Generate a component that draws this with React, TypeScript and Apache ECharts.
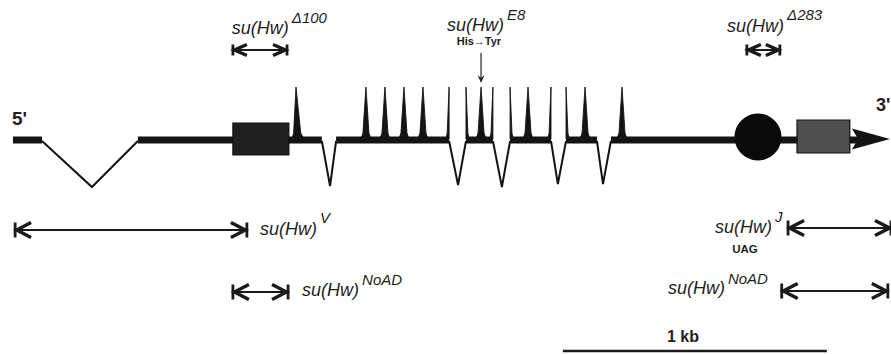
import React, { useEffect, useRef } from "react";
import * as echarts from "echarts";

// ---------------- data: positions in bp from the 5' end (1 kb = scale bar) ----------------
const axisMaxBp = 3326;
const geneStartBp = 0;
const arrowBaseBp = 3178;
const arrowNotchBp = 3201;
const arrowTipBp = 3322;

const intronStart = [110, 1170, 1652, 1818, 2038, 2212];
const intronApex = [299, 1201, 1686, 1852, 2064, 2235];
const intronEnd = [473, 1224, 1716, 1883, 2095, 2265];

// zinc fingers (left base, tip, right base); split fingers sit on intron borders
const fingerLeft = [1057, 1318, 1390, 1462, 1534, 1640, 1716, 1754, 1806, 1883, 1932, 2026, 2095, 2148, 2288];
const fingerTip = [1072, 1337, 1409, 1481, 1553, 1652, 1716, 1773, 1818, 1883, 1951, 2038, 2095, 2167, 2307];
const fingerRight = [1102, 1356, 1428, 1500, 1572, 1652, 1728, 1792, 1818, 1895, 1970, 2038, 2107, 2186, 2326];

const boxStart = [833, 2970];
const boxEnd = [1045, 3170];
const circleCenterBp = [2822];

const alleleNames = ["Δ100", "Δ283", "V", "NoAD", "J", "NoAD"];
const alleleStart = [833, 2780, 8, 833, 2936, 2912];
const alleleEnd = [1038, 2905, 886, 1042, 3326, 3314];

const pointAllele = ["E8"];
const pointPos = [1773];
const pointChange = ["His→Tyr"];
const jNote = "UAG";

const scaleBarStart = 2083;
const scaleBarLength = 1000;
const scaleBarLabel = "1 kb";

// ---------------- layout (pixels) ----------------
const TRACK_Y = 140;
const LINE_H = 7;
const FINGER_TIP_Y = 87;
const FINGER_BASE_Y = 138;
const intronApexY = [187, 186, 185, 187, 184, 184];
const boxTop = [123, 120];
const boxBottom = [155, 153];
const boxFill = ["#202020", "#4f4f4f"];
const CIRCLE_Y = 137;
const CIRCLE_R = 23.5;
const ARROW_HALF = 10.5;
const alleleRowY = [50, 50, 230, 292, 228, 291];
const alleleHead = [
  [14, 5.5],
  [14, 5.5],
  [16, 7.5],
  [16, 7.5],
  [16, 7.5],
  [16, 7.5],
];
const alleleLabelX = [829, 2705, 936, 1095, 2659, 2481];
const alleleLabelY = [28, 26, 229, 290, 227, 288];
const alleleSupY = [17, 14, 217, 279, 216, 278];
const pointLabelX = [1644];
const pointLabelY = [25];
const pointSupY = [14];

const INK = "#141414";
const TEXT = "#1e1e1e";
const FONT = '"Liberation Sans", Arial, Helvetica, sans-serif';

function measure(text: string, font: string): number {
  const c = document.createElement("canvas");
  const ctx = c.getContext("2d");
  if (!ctx) return text.length * 9;
  ctx.font = font;
  return ctx.measureText(text).width;
}

// baseline segments between introns
const segments: number[][] = [];
{
  let cur = geneStartBp;
  for (let i = 0; i < intronStart.length; i++) {
    segments.push([cur, intronStart[i]]);
    cur = intronEnd[i];
  }
  segments.push([cur, arrowNotchBp]);
}

type Lab = {
  x: number;
  y: number;
  text: string;
  size: number;
  italic?: boolean;
  bold?: boolean;
  align?: string;
  sup?: string;
  supY?: number;
};
const labels: Lab[] = [];
alleleNames.forEach((n, i) =>
  labels.push({ x: alleleLabelX[i], y: alleleLabelY[i], text: "su(Hw)", size: 18, italic: true, sup: n, supY: alleleSupY[i] })
);
pointAllele.forEach((n, i) => {
  labels.push({ x: pointLabelX[i], y: pointLabelY[i], text: "su(Hw)", size: 18, italic: true, sup: n, supY: pointSupY[i] });
  labels.push({ x: pointPos[i] - 8, y: 41, text: pointChange[i], size: 11, bold: true, align: "center" });
});
labels.push({ x: 2773, y: 249, text: jNote, size: 11.5, bold: true, align: "center" });
labels.push({ x: -4, y: 118, text: "5'", size: 19, bold: true });
labels.push({ x: 3269, y: 105, text: "3'", size: 18, bold: true });
labels.push({ x: scaleBarStart + scaleBarLength / 2 - 45, y: 336, text: scaleBarLabel, size: 16, bold: true, align: "center" });

const series: any[] = [
  {
    type: "custom",
    name: "line",
    clip: false,
    silent: true,
    data: segments,
    renderItem: (_p: any, api: any) => {
      const a = api.coord([api.value(0), TRACK_Y]);
      const b = api.coord([api.value(1), TRACK_Y]);
      return { type: "rect", shape: { x: a[0], y: a[1] - LINE_H / 2, width: b[0] - a[0], height: LINE_H }, style: { fill: INK } };
    },
  },
  {
    type: "custom",
    name: "introns",
    clip: false,
    silent: true,
    data: intronStart.map((s, i) => [s, intronApex[i], intronEnd[i]]),
    renderItem: (p: any, api: any) => {
      const i = p.dataIndex;
      const a = api.coord([api.value(0), TRACK_Y + 1]);
      const m = api.coord([api.value(1), intronApexY[i]]);
      const b = api.coord([api.value(2), TRACK_Y + 1]);
      return { type: "polyline", shape: { points: [a, m, b] }, style: { stroke: INK, lineWidth: 2, fill: "none" } };
    },
  },
  {
    type: "custom",
    name: "fingers",
    clip: false,
    silent: true,
    data: fingerLeft.map((l, i) => [l, fingerTip[i], fingerRight[i]]),
    renderItem: (_p: any, api: any) => {
      const L = api.coord([api.value(0), FINGER_BASE_Y])[0];
      const T = api.coord([api.value(1), FINGER_BASE_Y])[0];
      const R = api.coord([api.value(2), FINGER_BASE_Y])[0];
      const B = api.coord([0, FINGER_BASE_Y])[1];
      const tipY = api.coord([0, FINGER_TIP_Y])[1];
      const pts = [
        [L, B + 1],
        [L + (T - L) * 0.4, B - 5],
        [T, tipY],
        [T + (R - T) * 0.6, B - 5],
        [R, B + 1],
      ];
      return { type: "polygon", shape: { points: pts }, style: { fill: INK, stroke: INK, lineWidth: 0.9 } };
    },
  },
  {
    type: "custom",
    name: "boxes",
    clip: false,
    silent: true,
    data: boxStart.map((s, i) => [s, boxEnd[i]]),
    renderItem: (p: any, api: any) => {
      const i = p.dataIndex;
      const a = api.coord([api.value(0), boxTop[i]]);
      const b = api.coord([api.value(1), boxBottom[i]]);
      return {
        type: "rect",
        shape: { x: a[0], y: a[1], width: b[0] - a[0], height: b[1] - a[1] },
        style: { fill: boxFill[i], stroke: "#111", lineWidth: 1.2 },
      };
    },
  },
  {
    type: "custom",
    name: "circle",
    clip: false,
    silent: true,
    data: circleCenterBp.map((c) => [c, CIRCLE_Y]),
    renderItem: (_p: any, api: any) => {
      const c = api.coord([api.value(0), api.value(1)]);
      return { type: "circle", shape: { cx: c[0], cy: c[1], r: CIRCLE_R }, style: { fill: "#0a0a0a" } };
    },
  },
  {
    type: "custom",
    name: "arrowhead",
    clip: false,
    silent: true,
    data: [[arrowBaseBp, arrowNotchBp, arrowTipBp]],
    renderItem: (_p: any, api: any) => {
      const base = api.coord([api.value(0), TRACK_Y - 1]);
      const notch = api.coord([api.value(1), TRACK_Y - 1]);
      const tip = api.coord([api.value(2), TRACK_Y - 1]);
      const y = base[1];
      return {
        type: "polygon",
        shape: { points: [[base[0], y - ARROW_HALF], [tip[0], y], [base[0], y + ARROW_HALF], [notch[0], y]] },
        style: { fill: INK },
      };
    },
  },
  {
    type: "custom",
    name: "alleles",
    clip: false,
    silent: true,
    data: alleleStart.map((s, i) => [s, alleleEnd[i]]),
    renderItem: (p: any, api: any) => {
      const i = p.dataIndex;
      const a = api.coord([api.value(0), alleleRowY[i]]);
      const b = api.coord([api.value(1), alleleRowY[i]]);
      const [hl, hh] = alleleHead[i];
      const y = a[1];
      const x1 = a[0];
      const x2 = b[0];
      const st = { stroke: "#1a1a1a", fill: "none" };
      return {
        type: "group",
        children: [
          { type: "line", shape: { x1, y1: y, x2, y2: y }, style: { ...st, lineWidth: 1.8 } },
          { type: "line", shape: { x1, y1: y - hh, x2: x1, y2: y + hh }, style: { ...st, lineWidth: 2.8 } },
          { type: "line", shape: { x1: x2, y1: y - hh, x2, y2: y + hh }, style: { ...st, lineWidth: 2.8 } },
          {
            type: "polyline",
            shape: { points: [[x1 + hl, y - hh], [x1 + 1.5, y], [x1 + hl, y + hh]] },
            style: { ...st, lineWidth: 3.4 },
          },
          {
            type: "polyline",
            shape: { points: [[x2 - hl, y - hh], [x2 - 1.5, y], [x2 - hl, y + hh]] },
            style: { ...st, lineWidth: 3.4 },
          },
        ],
      };
    },
  },
  {
    type: "custom",
    name: "point",
    clip: false,
    silent: true,
    data: pointPos.map((x) => [x]),
    renderItem: (_p: any, api: any) => {
      const top = api.coord([api.value(0), 53]);
      const bot = api.coord([api.value(0), 83]);
      const x = top[0];
      return {
        type: "group",
        children: [
          { type: "line", shape: { x1: x, y1: top[1], x2: x, y2: bot[1] - 3 }, style: { stroke: "#222", lineWidth: 1.2 } },
          {
            type: "polygon",
            shape: { points: [[x - 3.5, bot[1] - 8], [x, bot[1]], [x + 3.5, bot[1] - 8], [x, bot[1] - 5]] },
            style: { fill: "#222" },
          },
        ],
      };
    },
  },
  {
    type: "custom",
    name: "scalebar",
    clip: false,
    silent: true,
    data: [[scaleBarStart, scaleBarStart + scaleBarLength]],
    renderItem: (_p: any, api: any) => {
      const a = api.coord([api.value(0), 351]);
      const b = api.coord([api.value(1), 351]);
      return { type: "line", shape: { x1: a[0], y1: a[1], x2: b[0], y2: b[1] }, style: { stroke: "#1a1a1a", lineWidth: 2.4 } };
    },
  },
  {
    type: "custom",
    name: "labels",
    clip: false,
    silent: true,
    data: labels.map((l, i) => [l.x, l.y, i]),
    renderItem: (_p: any, api: any) => {
      const l = labels[api.value(2) as number];
      const pt = api.coord([api.value(0), api.value(1)]);
      const font = `${l.italic ? "italic " : ""}${l.bold ? "bold " : ""}${l.size}px ${FONT}`;
      const children: any[] = [
        {
          type: "text",
          x: pt[0],
          y: pt[1],
          style: {
            text: l.text,
            fill: TEXT,
            fontSize: l.size,
            fontFamily: FONT,
            fontStyle: l.italic ? "italic" : "normal",
            fontWeight: l.bold ? "bold" : "normal",
            align: l.align || "left",
            verticalAlign: "middle",
          },
        },
      ];
      if (l.sup) {
        const w = measure(l.text, font);
        const sy = api.coord([0, l.supY])[1];
        children.push({
          type: "text",
          x: pt[0] + w + 3,
          y: sy,
          style: {
            text: l.sup,
            fill: TEXT,
            fontSize: 15,
            fontFamily: FONT,
            fontStyle: "italic",
            align: "left",
            verticalAlign: "middle",
          },
        });
      }
      return { type: "group", children };
    },
  },
];

const option: any = {
  animation: false,
  backgroundColor: "#ffffff",
  grid: { left: 13, right: 0, top: 0, bottom: 0 },
  xAxis: { type: "value", min: 0, max: axisMaxBp, show: false },
  yAxis: { type: "value", min: 0, max: 354, inverse: true, show: false },
  series,
};

export default function App() {
  const ref = useRef<HTMLDivElement>(null);
  useEffect(() => {
    if (!ref.current) return;
    const chart = echarts.init(ref.current, null, { renderer: "svg" });
    chart.setOption(option);
    return () => chart.dispose();
  }, []);
  return (
    <div
      ref={ref}
      style={{ position: "fixed", left: 0, top: 0, width: 891, height: 354, background: "#fff" }}
    />
  );
}
